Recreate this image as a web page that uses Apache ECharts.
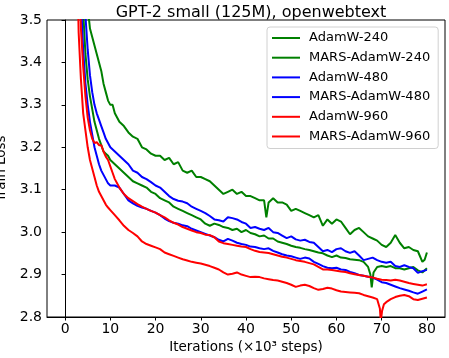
<!DOCTYPE html>
<html>
<head>
<meta charset="utf-8">
<script src="https://cdn.jsdelivr.net/npm/echarts@6/dist/echarts.min.js"></script>
<style>
  html, body { margin: 0; padding: 0; background: #fff; }
  #chart { width: 449px; height: 358px; }
</style>
</head>
<body>
<div id="chart"></div>
<script>
// tick labels
var xTicks = [0, 10, 20, 30, 40, 50, 60, 70, 80];
var yTicks = [2.8, 2.9, 3.0, 3.1, 3.2, 3.3, 3.4, 3.5];

var seriesNames = ['AdamW-240', 'MARS-AdamW-240', 'AdamW-480', 'MARS-AdamW-480', 'AdamW-960', 'MARS-AdamW-960'];

// [iteration (x1e3 steps), train loss]
var adamw240 = [
  [0, 10.9], [1, 7.2], [2, 5.0], [3, 4.1], [4, 3.72], [5, 3.53], [5.5, 3.48], [6, 3.46], [6.5, 3.44],
  [7, 3.42], [7.5, 3.40], [8, 3.38], [8.5, 3.35], [9, 3.33], [9.5, 3.31], [10, 3.30], [10.5, 3.30],
  [11, 3.28], [11.5, 3.27], [12, 3.26], [13, 3.25], [14, 3.235], [15, 3.225], [16, 3.22], [17, 3.20],
  [18, 3.195], [19, 3.185], [20, 3.18], [21, 3.18], [22, 3.17], [23, 3.175], [24, 3.16], [25, 3.165],
  [26, 3.145], [27, 3.14], [28, 3.145], [29, 3.13], [30, 3.13], [31, 3.125], [32, 3.12], [33, 3.11],
  [34, 3.10], [35, 3.09], [36, 3.095], [37, 3.10], [38, 3.09], [39, 3.095], [40, 3.085], [41, 3.085],
  [42, 3.08], [43, 3.075], [44, 3.075], [44.5, 3.035], [45, 3.07], [46, 3.08], [47, 3.07], [48, 3.07],
  [49, 3.065], [50, 3.05], [51, 3.055], [52, 3.05], [53, 3.045], [54, 3.04], [55, 3.035], [56, 3.04],
  [57, 3.015], [58, 3.03], [59, 3.02], [60, 3.03], [61, 3.025], [62, 3.01], [63, 2.995], [64, 3.005],
  [65, 3.01], [66, 3.0], [67, 2.99], [68, 2.985], [69, 2.98], [70, 2.97], [71, 2.965], [72, 2.975],
  [73, 2.993], [74, 2.975], [75, 2.962], [76, 2.965], [77, 2.958], [78, 2.955], [79, 2.93], [79.5, 2.935],
  [80, 2.952]
];
var marsAdamw240 = [
  [0, 10.9], [1, 7.0], [2, 4.9], [3, 3.9], [4, 3.52], [4.5, 3.42], [5, 3.36], [5.5, 3.32], [6, 3.29],
  [6.5, 3.26], [7, 3.24], [7.5, 3.22], [8, 3.205], [8.5, 3.19], [9, 3.185], [9.5, 3.18], [10, 3.17],
  [11, 3.16], [12, 3.15], [13, 3.14], [14, 3.13], [15, 3.12], [16, 3.115], [17, 3.11], [18, 3.105],
  [19, 3.095], [20, 3.09], [21, 3.08], [22, 3.075], [23, 3.07], [24, 3.06], [25, 3.055], [26, 3.05],
  [27, 3.045], [28, 3.04], [29, 3.035], [30, 3.03], [31, 3.02], [32, 3.015], [33, 3.02], [34, 3.017],
  [35, 3.012], [36, 3.01], [37, 3.005], [38, 3.008], [39, 3.0], [40, 3.005], [41, 2.998], [42, 2.995],
  [43, 2.99], [44, 2.992], [45, 2.985], [46, 2.985], [47, 2.978], [48, 2.975], [49, 2.972], [50, 2.968],
  [51, 2.965], [52, 2.963], [53, 2.96], [54, 2.958], [55, 2.955], [56, 2.952], [57, 2.95], [58, 2.945],
  [59, 2.941], [60, 2.945], [61, 2.94], [62, 2.939], [63, 2.936], [64, 2.935], [65, 2.934], [66, 2.93],
  [67, 2.918], [67.5, 2.90], [67.8, 2.87], [68.2, 2.905], [69, 2.918], [70, 2.92], [71, 2.918], [72, 2.92],
  [73, 2.915], [74, 2.915], [75, 2.912], [76, 2.915], [77, 2.918], [78, 2.91], [79, 2.905], [80, 2.915]
];
var adamw480 = [
  [0, 10.9], [1, 7.3], [2, 5.1], [3, 4.0], [4, 3.62], [4.5, 3.51], [5, 3.43], [5.5, 3.37], [6, 3.33],
  [6.5, 3.30], [7, 3.28], [7.5, 3.265], [8, 3.25], [8.5, 3.235], [9, 3.22], [9.5, 3.21], [10, 3.20],
  [11, 3.19], [12, 3.18], [13, 3.17], [14, 3.16], [15, 3.145], [16, 3.14], [17, 3.13], [18, 3.125],
  [19, 3.118], [20, 3.11], [21, 3.105], [22, 3.095], [23, 3.085], [24, 3.078], [25, 3.074], [26, 3.072],
  [27, 3.068], [28, 3.06], [29, 3.055], [30, 3.05], [31, 3.045], [32, 3.038], [33, 3.03], [34, 3.028],
  [35, 3.025], [36, 3.035], [37, 3.033], [38, 3.03], [39, 3.024], [40, 3.02], [41, 3.01], [42, 3.012],
  [43, 3.008], [44, 3.005], [45, 3.01], [46, 3.0], [47, 2.998], [48, 2.992], [49, 2.986], [50, 2.99],
  [51, 2.983], [52, 2.98], [53, 2.982], [54, 2.977], [55, 2.975], [56, 2.965], [57, 2.955], [58, 2.958],
  [59, 2.953], [60, 2.96], [61, 2.962], [62, 2.955], [63, 2.951], [64, 2.955], [65, 2.945], [66, 2.934],
  [67, 2.937], [68, 2.94], [69, 2.934], [70, 2.93], [71, 2.928], [72, 2.93], [73, 2.92], [74, 2.918],
  [75, 2.922], [76, 2.918], [77, 2.915], [78, 2.904], [79, 2.908], [80, 2.911]
];
var marsAdamw480 = [
  [0, 10.9], [1, 6.8], [2, 4.7], [3, 3.75], [3.5, 3.55], [4, 3.43], [4.5, 3.35], [5, 3.30], [5.5, 3.26],
  [6, 3.23], [6.5, 3.20], [7, 3.18], [7.5, 3.16], [8, 3.145], [8.5, 3.135], [9, 3.125], [9.5, 3.115],
  [10, 3.11], [11, 3.11], [12, 3.105], [13, 3.09], [14, 3.075], [15, 3.068], [16, 3.062], [17, 3.058],
  [18, 3.055], [19, 3.05], [20, 3.046], [21, 3.04], [22, 3.032], [23, 3.026], [24, 3.022], [25, 3.02],
  [26, 3.016], [27, 3.014], [28, 3.008], [29, 3.004], [30, 3.0], [31, 2.996], [32, 2.992], [33, 2.988],
  [34, 2.982], [35, 2.978], [36, 2.984], [37, 2.98], [38, 2.975], [39, 2.972], [40, 2.97], [41, 2.966],
  [42, 2.965], [43, 2.962], [44, 2.96], [45, 2.962], [46, 2.956], [47, 2.952], [48, 2.948], [49, 2.945],
  [50, 2.943], [51, 2.94], [52, 2.937], [53, 2.94], [54, 2.938], [55, 2.93], [56, 2.925], [57, 2.92],
  [58, 2.916], [59, 2.915], [60, 2.916], [61, 2.912], [62, 2.911], [63, 2.906], [64, 2.903], [65, 2.899],
  [66, 2.897], [67, 2.895], [68, 2.893], [69, 2.888], [70, 2.882], [71, 2.88], [72, 2.876], [73, 2.872],
  [74, 2.868], [75, 2.865], [76, 2.862], [77, 2.858], [78, 2.855], [79, 2.86], [80, 2.865]
];
var adamw960 = [
  [0, 10.9], [1, 6.6], [2, 4.5], [3, 3.65], [3.5, 3.48], [4, 3.39], [4.5, 3.32], [5, 3.27], [5.5, 3.24],
  [6, 3.22], [6.5, 3.21], [7, 3.212], [7.5, 3.205], [8, 3.205], [8.5, 3.19], [9, 3.178], [9.5, 3.17],
  [10, 3.155], [10.5, 3.14], [11, 3.125], [12, 3.105], [13, 3.09], [14, 3.08], [15, 3.073], [16, 3.066],
  [17, 3.06], [18, 3.055], [19, 3.05], [20, 3.046], [21, 3.04], [22, 3.035], [23, 3.028], [24, 3.022],
  [25, 3.018], [26, 3.012], [27, 3.008], [28, 3.004], [29, 3.0], [30, 2.998], [31, 2.994], [32, 2.993],
  [33, 2.988], [34, 2.978], [35, 2.974], [36, 2.972], [37, 2.97], [38, 2.968], [39, 2.966], [40, 2.965],
  [41, 2.96], [42, 2.956], [43, 2.953], [44, 2.952], [45, 2.951], [46, 2.948], [47, 2.945], [48, 2.942],
  [49, 2.94], [50, 2.937], [51, 2.934], [52, 2.932], [53, 2.93], [54, 2.927], [55, 2.924], [56, 2.918],
  [57, 2.912], [58, 2.912], [59, 2.911], [60, 2.909], [61, 2.907], [62, 2.906], [63, 2.903], [64, 2.901],
  [65, 2.899], [66, 2.897], [67, 2.895], [68, 2.893], [69, 2.89], [70, 2.888], [71, 2.887], [72, 2.886],
  [73, 2.888], [74, 2.886], [75, 2.883], [76, 2.88], [77, 2.878], [78, 2.876], [79, 2.874], [80, 2.877]
];
var marsAdamw960 = [
  [0, 10.9], [1, 6.2], [2, 4.2], [2.5, 3.72], [3, 3.47], [3.5, 3.36], [4, 3.28], [4.5, 3.24], [5, 3.2],
  [5.5, 3.17], [6, 3.15], [6.5, 3.13], [7, 3.11], [7.5, 3.095], [8, 3.085], [8.5, 3.075], [9, 3.065],
  [9.5, 3.058], [10, 3.052], [11, 3.04], [12, 3.028], [13, 3.015], [14, 3.005], [15, 2.998], [16, 2.99],
  [17, 2.978], [18, 2.972], [19, 2.968], [20, 2.964], [21, 2.96], [22, 2.952], [23, 2.948], [24, 2.944],
  [25, 2.94], [26, 2.936], [27, 2.933], [28, 2.93], [29, 2.928], [30, 2.926], [31, 2.923], [32, 2.92],
  [33, 2.916], [34, 2.912], [35, 2.905], [36, 2.9], [37, 2.902], [38, 2.905], [39, 2.9], [40, 2.897],
  [41, 2.894], [42, 2.895], [43, 2.894], [44, 2.891], [45, 2.889], [46, 2.887], [47, 2.886], [48, 2.883],
  [49, 2.88], [50, 2.876], [51, 2.871], [52, 2.874], [53, 2.876], [54, 2.873], [55, 2.868], [56, 2.864],
  [57, 2.866], [58, 2.869], [59, 2.867], [60, 2.863], [61, 2.86], [62, 2.859], [63, 2.858], [64, 2.857],
  [65, 2.856], [66, 2.852], [67, 2.849], [68, 2.846], [69, 2.842], [69.6, 2.82], [69.8, 2.79], [70.1, 2.815],
  [70.5, 2.83], [71, 2.835], [72, 2.842], [73, 2.847], [74, 2.85], [75, 2.852], [76, 2.849], [77, 2.842],
  [78, 2.84], [79, 2.843], [80, 2.846]
];

var seriesData = [adamw240, marsAdamw240, adamw480, marsAdamw480, adamw960, marsAdamw960];
var seriesColors = ['#008000', '#008000', '#0000ff', '#0000ff', '#ff0000', '#ff0000'];

var FONT = 'DejaVu Sans';
var chart = echarts.init(document.getElementById('chart'), null, { renderer: 'canvas' });

var series = seriesNames.map(function (name, i) {
  return {
    name: name,
    type: 'line',
    data: seriesData[i],
    symbol: 'none',
    clip: true,
    lineStyle: { color: seriesColors[i], width: 2 },
    itemStyle: { color: seriesColors[i] }
  };
});

var option = {
  backgroundColor: '#fff',
  animation: false,
  title: {
    text: 'GPT-2 small (125M), openwebtext',
    left: 246,
    textAlign: 'center',
    top: 0,
    textStyle: { fontFamily: FONT, fontSize: 16, fontWeight: 'normal', color: '#000' }
  },
  grid: {
    left: 47, right: 4, top: 20, bottom: 41,
    outerBoundsMode: 'none',
    containLabel: false,
    show: true, borderColor: '#000', borderWidth: 1, backgroundColor: 'transparent'
  },
  legend: {
    orient: 'vertical',
    left: 267,
    top: 27,
    padding: [4, 8, 5, 5],
    icon: 'rect',
    itemWidth: 28,
    itemHeight: 2,
    itemGap: 5.7,
    borderColor: '#d0d0d0',
    borderWidth: 1,
    borderRadius: 3,
    backgroundColor: '#fff',
    textStyle: { fontFamily: FONT, fontSize: 13, lineHeight: 14, color: '#000', padding: [0, 0, 0, 4] },
    data: seriesNames
  },
  xAxis: {
    type: 'value',
    min: -4,
    max: 84,
    name: 'Iterations (×10³ steps)',
    nameLocation: 'middle',
    nameGap: 22,
    nameTextStyle: { fontFamily: FONT, fontSize: 13.5, color: '#000' },
    axisLine: { show: true, lineStyle: { color: '#000' } },
    axisTick: { show: true, length: 3.5, customValues: xTicks, lineStyle: { color: '#000' } },
    axisLabel: { customValues: xTicks, margin: 5, fontFamily: FONT, fontSize: 14, color: '#000' },
    splitLine: { show: false }
  },
  yAxis: {
    type: 'value',
    min: 2.8,
    max: 3.5,
    name: 'Train Loss',
    nameLocation: 'middle',
    nameGap: 30,
    nameTextStyle: { fontFamily: FONT, fontSize: 13.5, color: '#000' },
    axisLine: { show: true, lineStyle: { color: '#000' } },
    axisTick: { show: true, length: 3.5, customValues: yTicks, lineStyle: { color: '#000' } },
    axisLabel: {
      customValues: yTicks, margin: 5, fontFamily: FONT, fontSize: 14, color: '#000',
      formatter: function (v) { return v.toFixed(1); }
    },
    splitLine: { show: false }
  },
  series: series
};

chart.setOption(option);
</script>
</body>
</html>
